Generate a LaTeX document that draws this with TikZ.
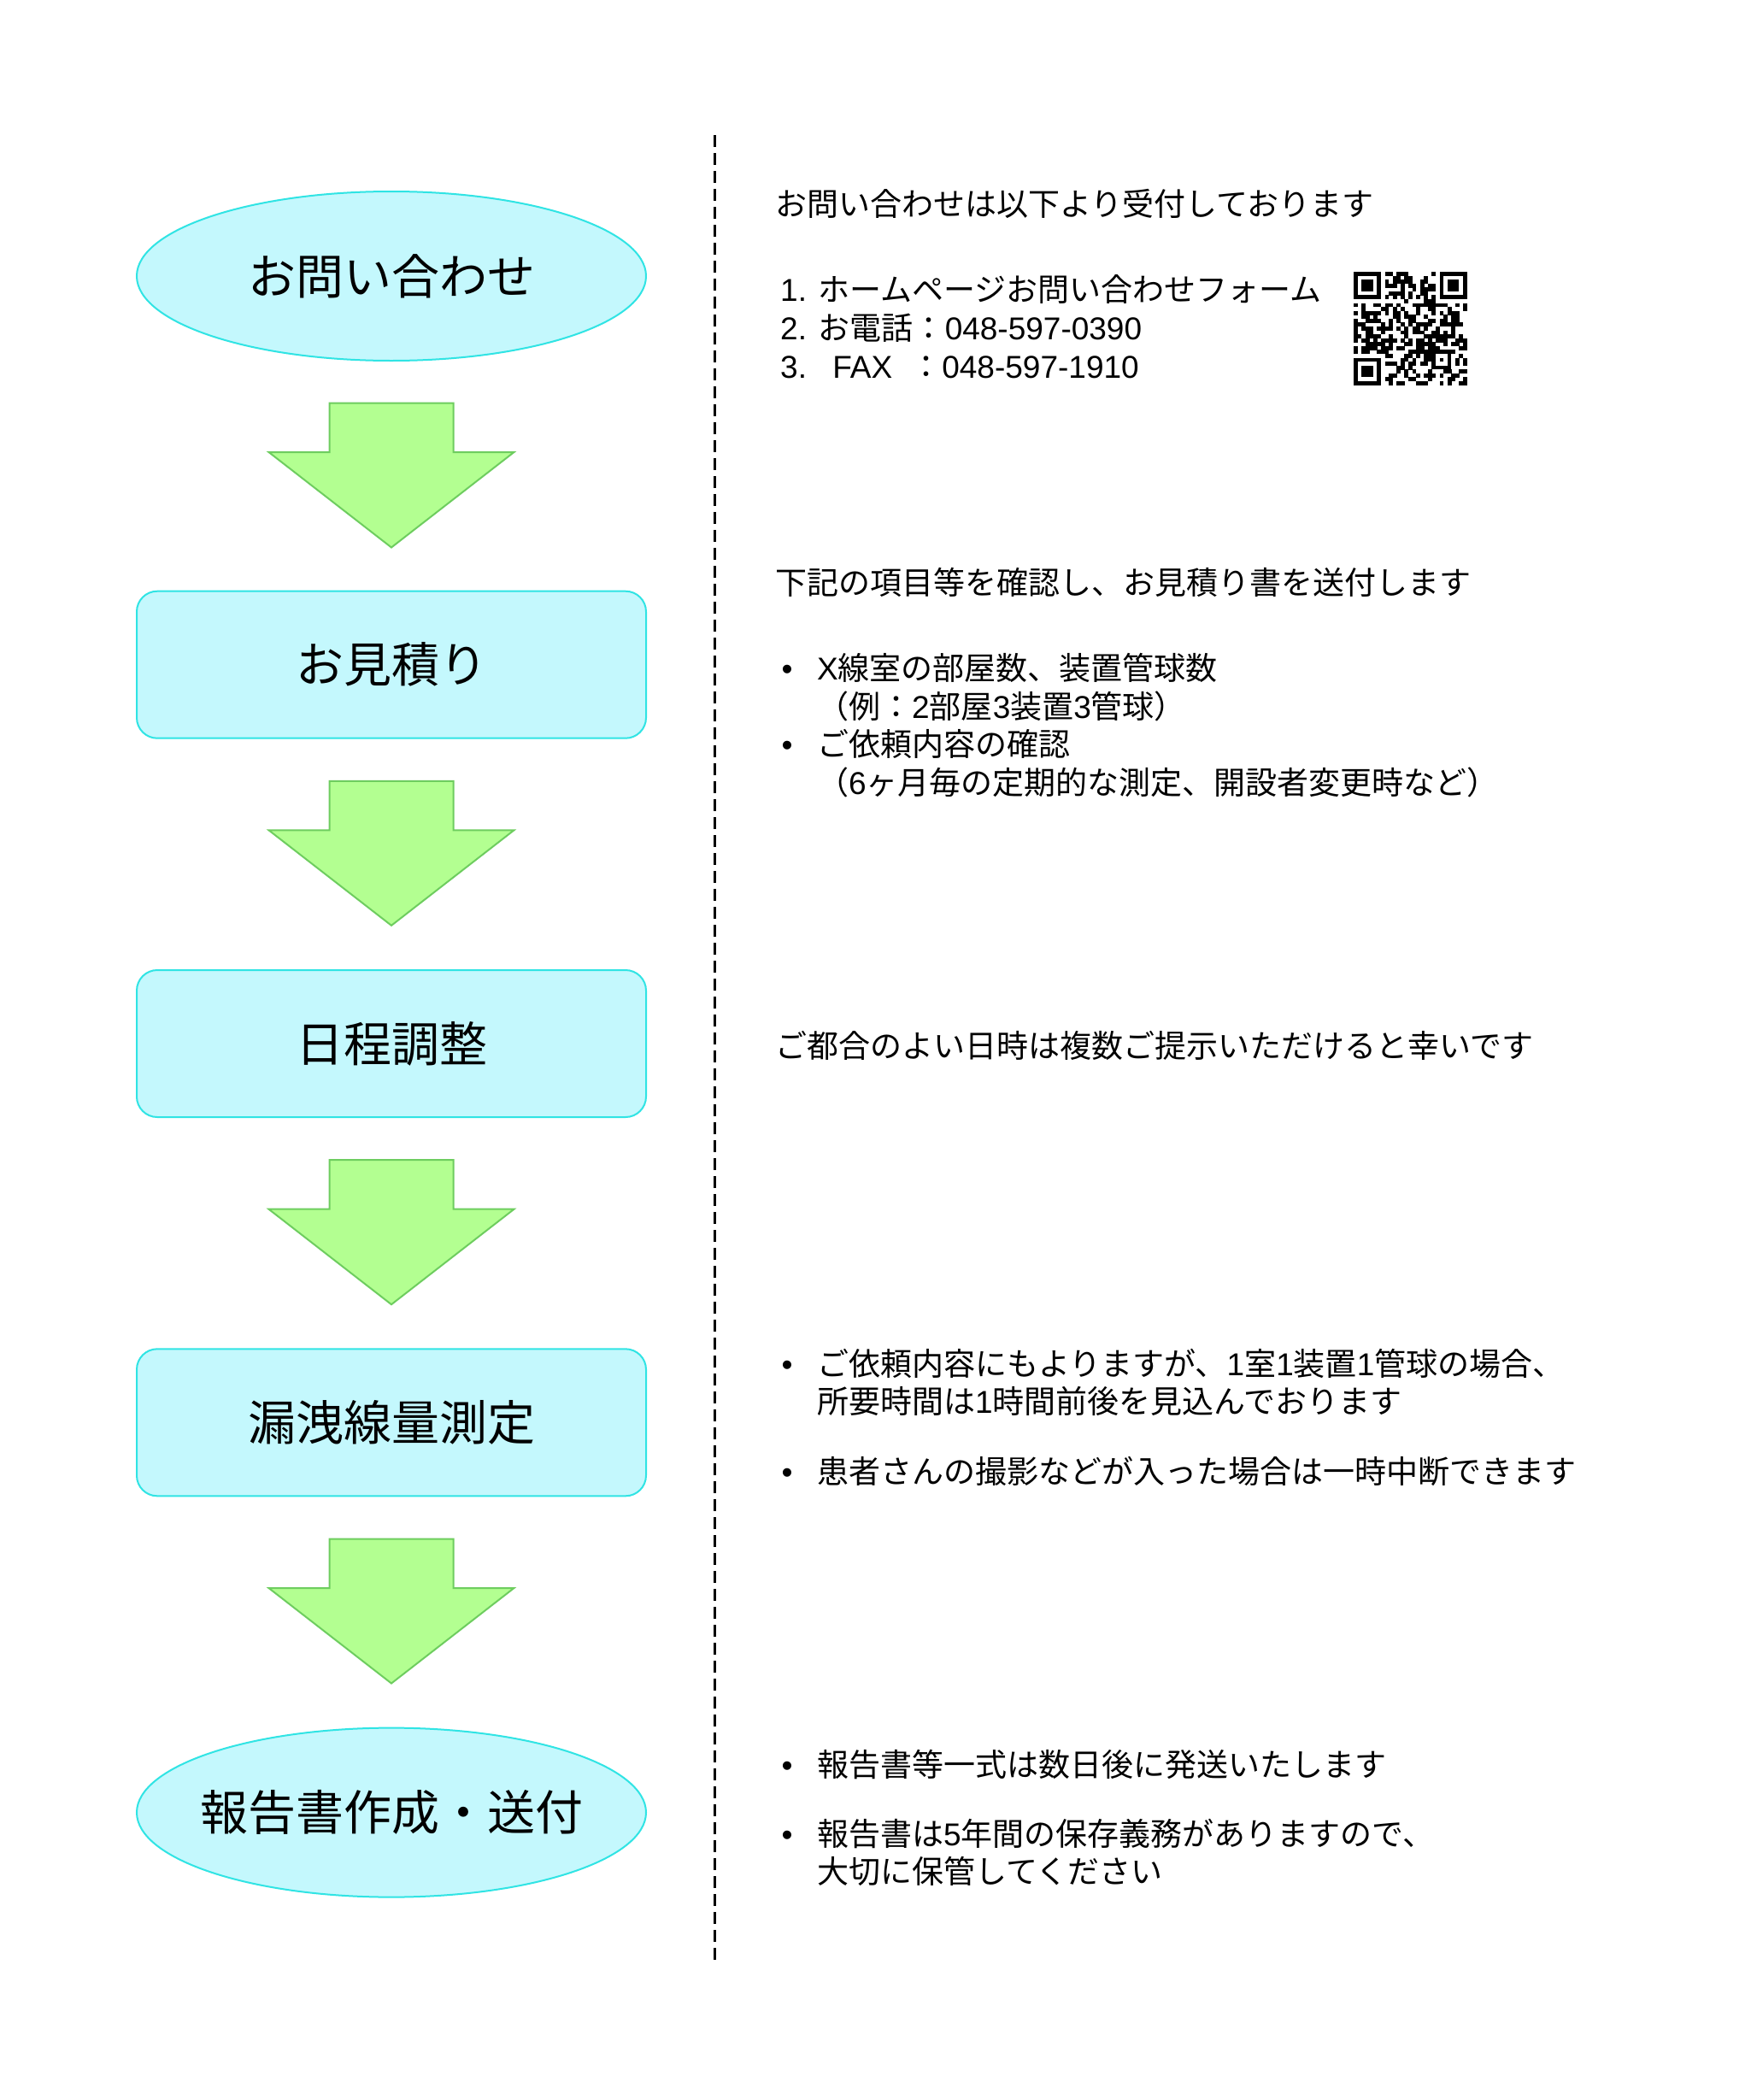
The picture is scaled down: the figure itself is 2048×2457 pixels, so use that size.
\documentclass[tikz,border=0pt]{standalone}
\usepackage{fontspec}
\setmainfont{Noto Sans CJK JP}
\newfontfamily\latf{Liberation Sans}
\newcommand\ltn[1]{{\latf #1}}
\usetikzlibrary{shapes.geometric}
\definecolor{ellfill}{RGB}{196,248,253}
\definecolor{elldraw}{RGB}{48,228,228}
\definecolor{arrfill}{RGB}{179,255,145}
\definecolor{arrdraw}{RGB}{110,205,95}
\tikzset{
  flowell/.style={ellipse, draw=elldraw, fill=ellfill, line width=2pt, minimum width=596pt, minimum height=198pt, inner xsep=-60pt, inner ysep=0pt, font=\fontsize{56}{66}\selectfont},
  flowbox/.style={rectangle, rounded corners=24pt, draw=elldraw, fill=ellfill, line width=2pt, minimum width=596pt, minimum height=172pt, inner sep=0pt, font=\fontsize{56}{66}\selectfont},
  arrowshape/.style={draw=arrdraw, fill=arrfill, line width=2pt, line join=miter},
  desc/.style={anchor=west, inner sep=0pt, text height=32.6pt, text depth=4.4pt, font=\fontsize{37}{45}\selectfont},
  bul/.style={anchor=center, inner sep=0pt, text height=32.6pt, text depth=4.4pt, font=\fontsize{37}{45}\selectfont},
  divider/.style={line width=3pt, dash pattern=on 14pt off 7pt},
  downarrow/.pic={\draw[arrowshape] (-72.5,0) -- (72.5,0) -- (72.5,57.5) -- (143.5,57.5) -- (0,169) -- (-143.5,57.5) -- (-72.5,57.5) -- cycle;}
}
\begin{document}
\begin{tikzpicture}[x=1pt,y=-1pt]
\useasboundingbox[fill=white] (0,0) rectangle (2048,2457);

% flow nodes
\node[flowell] (n1) at (458,323) {お問い合わせ};
\node[flowbox] (n2) at (458,777.7) {お見積り};
\node[flowbox] (n3) at (458,1221) {日程調整};
\node[flowbox] (n4) at (458,1664.3) {漏洩線量測定};
\node[flowell] (n5) at (458,2120.6) {報告書作成・送付};

% arrows
\coordinate (a1) at (458,471.5);
\coordinate (a2) at (458,913.8);
\coordinate (a3) at (458,1357.2);
\coordinate (a4) at (458,1800.5);
\pic at (a1) {downarrow};
\pic at (a2) {downarrow};
\pic at (a3) {downarrow};
\pic at (a4) {downarrow};

% divider
\coordinate (dtop) at (836,158);
\coordinate (dbot) at (836,2296);
\draw[divider] (dtop) -- (dbot);

% section 1
\node[desc] (t1) at (907,238) {お問い合わせは以下より受付しております};
\node[desc] (l1) at (913,338.3) {\ltn{1. }ホームページお問い合わせフォーム};
\node[desc] (l2) at (913,383) {\ltn{2. }お電話：\ltn{048-597-0390}};
\node[desc] (l3) at (913,428.8) {\makebox[1.112em][l]{\ltn{3.}}\makebox[3em][l]{\hspace{0.54em}\ltn{FAX}}：\ltn{048-597-1910}};

% QR code
\def\qm{4.57}
\coordinate (qr) at (1584,318);
\begin{scope}[shift={(qr)}]
  \pgfmathsetseed{2718}
  \foreach \i in {0,...,28} {
    \foreach \j in {0,...,28} {
      \pgfmathrandominteger{\r}{0}{1}
      \pgfmathtruncatemacro\v{(((\i<8)&&(\j<8))||((\i<8)&&(\j>20))||((\i>20)&&(\j<8))||(\i==6)||(\j==6)||((\i>19)&&(\i<25)&&(\j>19)&&(\j<25))) ? 0 : \r}
      \ifnum\v=1
        \fill[black] ({\j*\qm},{\i*\qm}) rectangle ({(\j+1)*\qm+0.3},{(\i+1)*\qm+0.3});
      \fi
    }
  }
  % timing patterns
  \foreach \k in {8,10,...,20} {
    \fill[black] ({\k*\qm},{6*\qm}) rectangle ({(\k+1)*\qm+0.3},{7*\qm+0.3});
    \fill[black] ({6*\qm},{\k*\qm}) rectangle ({7*\qm+0.3},{(\k+1)*\qm+0.3});
  }
  % finder patterns
  \foreach \fx/\fy in {0/0, 22/0, 0/22} {
    \fill[black] ({\fx*\qm},{\fy*\qm}) rectangle ({(\fx+7)*\qm},{(\fy+7)*\qm});
    \fill[white] ({(\fx+1)*\qm},{(\fy+1)*\qm}) rectangle ({(\fx+6)*\qm},{(\fy+6)*\qm});
    \fill[black] ({(\fx+2)*\qm},{(\fy+2)*\qm}) rectangle ({(\fx+5)*\qm},{(\fy+5)*\qm});
  }
  % alignment pattern
  \fill[black] ({20*\qm},{20*\qm}) rectangle ({25*\qm},{25*\qm});
  \fill[white] ({21*\qm},{21*\qm}) rectangle ({24*\qm},{24*\qm});
  \fill[black] ({22*\qm},{22*\qm}) rectangle ({23*\qm},{23*\qm});
\end{scope}

% section 2
\node[desc] (t2) at (907,681.2) {下記の項目等を確認し、お見積り書を送付します};
\node[bul] (b1) at (921,781.6) {\ltn{•}};
\node[desc] (s1) at (956,781.6) {\ltn{X}線室の部屋数、装置管球数};
\node[desc] (s2) at (956,826.4) {（例：\ltn{2}部屋\ltn{3}装置\ltn{3}管球）};
\node[bul] (b2) at (921,870.1) {\ltn{•}};
\node[desc] (s3) at (956,870.1) {ご依頼内容の確認};
\node[desc] (s4) at (956,915.8) {（\ltn{6}ヶ月毎の定期的な測定、開設者変更時など）};

% section 3
\node[desc] (t3) at (907,1223) {ご都合のよい日時は複数ご提示いただけると幸いです};

% section 4
\node[bul] (b3) at (921,1595.7) {\ltn{•}};
\node[desc] (u1) at (956,1595.7) {ご依頼内容にもよりますが、\ltn{1}室\ltn{1}装置\ltn{1}管球の場合、};
\node[desc] (u2) at (956,1639.5) {所要時間は\ltn{1}時間前後を見込んでおります};
\node[bul] (b4) at (921,1721) {\ltn{•}};
\node[desc] (u3) at (956,1721) {患者さんの撮影などが入った場合は一時中断できます};

% section 5
\node[bul] (b5) at (921,2063.9) {\ltn{•}};
\node[desc] (v1) at (956,2063.9) {報告書等一式は数日後に発送いたします};
\node[bul] (b6) at (921,2145.4) {\ltn{•}};
\node[desc] (v2) at (956,2145.4) {報告書は\ltn{5}年間の保存義務がありますので、};
\node[desc] (v3) at (956,2189.1) {大切に保管してください};
\end{tikzpicture}
\end{document}
